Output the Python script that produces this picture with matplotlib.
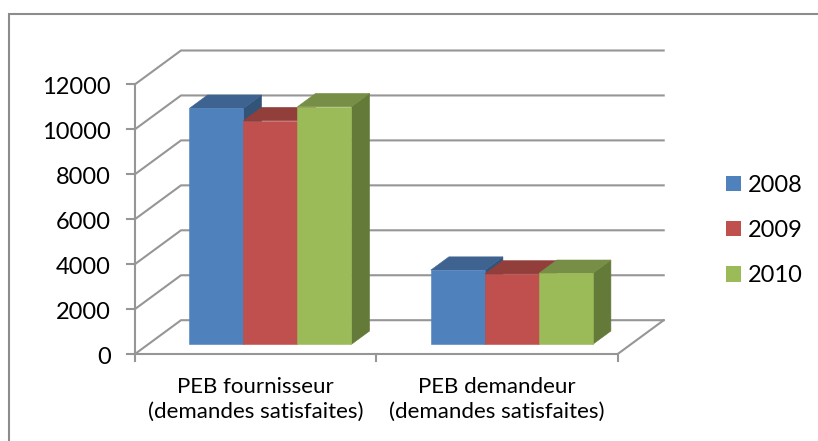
import matplotlib
matplotlib.use("Agg")
import matplotlib.pyplot as plt
from matplotlib.lines import Line2D
from matplotlib.patches import Patch, Polygon

categories = ["PEB fournisseur\n(demandes satisfaites)", "PEB demandeur\n(demandes satisfaites)"]
years = ["2008", "2009", "2010"]
values_2008 = [10500, 3300]
values_2009 = [9950, 3130]
values_2010 = [10570, 3160]
series = [values_2008, values_2009, values_2010]
y_ticks = [0, 2000, 4000, 6000, 8000, 10000, 12000]

front_colors = ["#4F81BD", "#C0504D", "#9BBB59"]
top_colors = ["#3E6391", "#923E3B", "#768E45"]
side_colors = ["#335479", "#7B3432", "#647A38"]
GRID = "#969696"
FONT = "Lato"

W, H = 818, 441
fig = plt.figure(figsize=(W / 100, H / 100), dpi=100, facecolor="white")
plt.rcParams["font.family"] = FONT

# Front plane of the oblique chart box in pixels
L, R, B, T = 135, 617.7, 354, 84.3
ax = fig.add_axes([L / W, 1 - B / H, (R - L) / W, (B - T) / H])
ax.set_xlim(0, 2)
ax.set_ylim(0, 12000)
ax.axis("off")

DX = 46 / ((R - L) / 2)       # wall depth, in x units
DY = 33.8 / ((B - T) / 12000)  # wall depth, in y units


def P(x, v, d):
    return (x + d * DX, v + d * DY)


# Walls and floor
for t in y_ticks:
    xs, ys = zip(P(0, t, 0), P(0, t, 1), P(2, t, 1))
    ax.plot(xs, ys, color=GRID, lw=1.5, clip_on=False, zorder=1, solid_joinstyle="miter")
xs, ys = zip(P(0, 0, 0), P(2, 0, 0), P(2, 0, 1))
ax.plot(xs, ys, color=GRID, lw=1.5, clip_on=False, zorder=1)
ax.plot([0, 0], [0, 12000], color=GRID, lw=1.5, clip_on=False, zorder=1)

# Tick marks and labels
px_x = 2 / (R - L)
px_y = 12000 / (B - T)
for t in y_ticks:
    ax.plot([-8 * px_x, 0], [t, t], color=GRID, lw=1.5, clip_on=False, zorder=1)
    ax.text(-24.5 * px_x, t - 3.5 * px_y, f"{t}", ha="right", va="center", fontsize=17, color="black",
            family=FONT, clip_on=False)
for c in range(3):
    ax.plot([c, c], [0, -6.5 * px_y], color=GRID, lw=1.5, clip_on=False, zorder=1)
for c, lab in enumerate(categories):
    ax.text(c + 0.5, -45.5 * px_y, lab, ha="center", va="center", fontsize=16, color="black",
            family=FONT, linespacing=1.28, clip_on=False)

# Bars
BAR_W = 54 * px_x
D0, D1 = 0.287, 0.68
START = 0.171
z = 2
for c in range(len(categories)):
    for j, vals in enumerate(series):
        x0 = c + START + j * BAR_W
        x1 = x0 + BAR_W
        v = vals[c]
        side = [P(x1, 0, D0), P(x1, 0, D1), P(x1, v, D1), P(x1, v, D0)]
        top = [P(x0, v, D0), P(x1, v, D0), P(x1, v, D1), P(x0, v, D1)]
        front = [P(x0, 0, D0), P(x1, 0, D0), P(x1, v, D0), P(x0, v, D0)]
        for poly, col in ((side, side_colors[j]), (top, top_colors[j]), (front, front_colors[j])):
            ax.add_patch(Polygon(poly, closed=True, facecolor=col, edgecolor=col, lw=0.4,
                                 clip_on=False, zorder=z))
            z += 1

# Legend
handles = [Patch(facecolor=col, edgecolor="none", label=y) for col, y in zip(front_colors, years)]
fig.legend(handles=handles, loc="center left", bbox_to_anchor=(726 / W, 1 - 230.5 / H),
           frameon=False, fontsize=17, borderpad=0, borderaxespad=0, handlelength=0.635,
           handleheight=0.635, handletextpad=0.31, labelspacing=1.03)

# Chart frame: only its top and left edges fall inside the picture
fig.add_artist(Line2D([8.5 / W, 8.5 / W, 1], [0, 1 - 14 / H, 1 - 14 / H], transform=fig.transFigure,
                      color="#8C8C8C", lw=1.5, solid_joinstyle="miter"))

fig.savefig("out.png", dpi=100, facecolor="white")
